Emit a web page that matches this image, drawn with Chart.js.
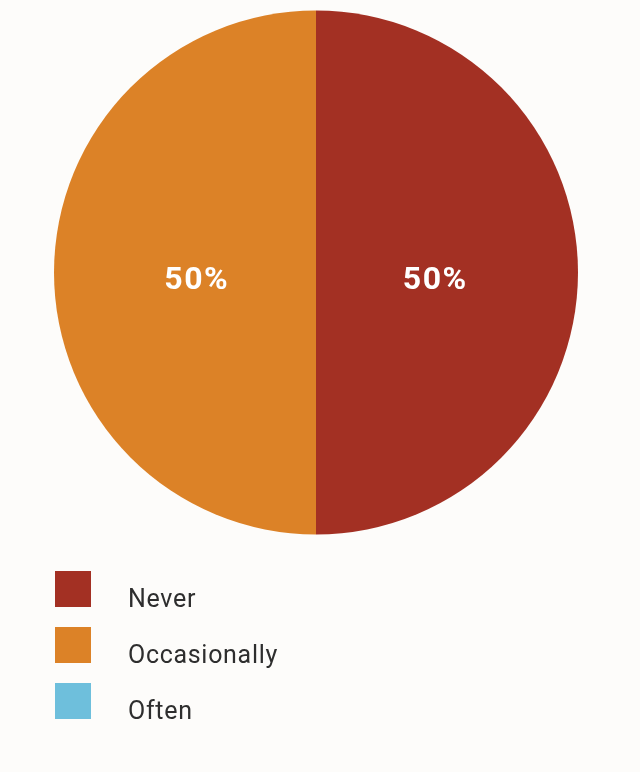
<!DOCTYPE html>
<html>
<head>
<meta charset="utf-8">
<script src="https://cdn.jsdelivr.net/npm/chart.js@4.4.0/dist/chart.umd.min.js"></script>
<style>
  html, body { margin: 0; padding: 0; background: #fdfcfa; }
  #wrap { position: relative; width: 640px; height: 772px; }
  #legend { position: absolute; left: 55px; top: 571px; }
  .item { position: relative; height: 56px; }
  .box { position: absolute; left: 0; top: 0; width: 36px; height: 36px; }
  .txt { position: absolute; left: 73px; top: 13px; font-family: Roboto, sans-serif; font-size: 25px; color: #2e2e2e; white-space: nowrap; letter-spacing: 0.7px; }
</style>
</head>
<body>
<div id="wrap">
  <canvas id="pie" width="640" height="772"></canvas>
  <div id="legend"></div>
</div>
<script>
// ---------- chart data ----------
const categories = ["Never", "Occasionally", "Often"];
const shares = [50, 50, 0];
const sliceColors = ["#a33023", "#dc8227", "#6ebfdc"];

// white percentage labels inside each slice
const sliceLabels = {
    id: 'sliceLabels',
    afterDatasetsDraw(chart) {
        const ctx = chart.ctx;
        const meta = chart.getDatasetMeta(0);
        ctx.save();
        ctx.fillStyle = '#ffffff';
        ctx.font = 'bold 32px Roboto, sans-serif';
        ctx.letterSpacing = '1.5px';
        ctx.textAlign = 'center';
        ctx.textBaseline = 'middle';
        meta.data.forEach((arc, i) => {
            if (!shares[i]) return;
            const mid = (arc.startAngle + arc.endAngle) / 2;
            const r = arc.outerRadius * 0.455;
            const x = arc.x + Math.cos(mid) * r;
            const y = arc.y + Math.sin(mid) * r + 8;
            ctx.fillText(shares[i] + '%', x, y);
        });
        ctx.restore();
    }
};

new Chart(document.getElementById('pie'), {
    type: 'pie',
    data: {
        labels: categories,
        datasets: [{
            data: shares,
            backgroundColor: sliceColors,
            borderWidth: 0
        }]
    },
    options: {
        responsive: false,
        animation: false,
        layout: { padding: { left: 54, right: 62, top: 10, bottom: 237 } },
        plugins: { legend: { display: false }, tooltip: { enabled: false } }
    },
    plugins: [sliceLabels]
});

// legend built from the same arrays
document.getElementById('legend').innerHTML = categories.map((c, i) => `
    <div class="item">
        <div class="box" style="background:${sliceColors[i]}"></div>
        <div class="txt">${c}</div>
    </div>`).join('');
</script>
</body>
</html>
